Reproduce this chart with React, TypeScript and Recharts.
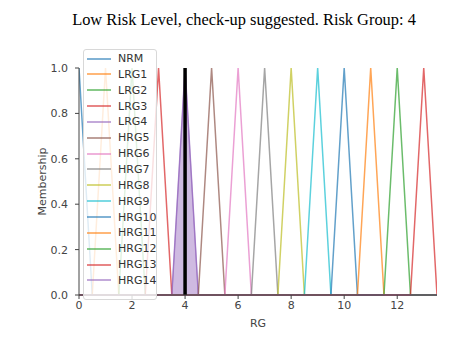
import React from 'react'
import { ComposedChart, Line, Area, XAxis, YAxis } from 'recharts'

// fuzzy sets of the risk group universe
const setNames = ['NRM', 'LRG1', 'LRG2', 'LRG3', 'LRG4', 'HRG5', 'HRG6', 'HRG7', 'HRG8', 'HRG9', 'HRG10', 'HRG11', 'HRG12', 'HRG13', 'HRG14']
const leftFeet = [0, 0.5, 1.5, 2.5, 3.5, 4.5, 5.5, 6.5, 7.5, 8.5, 9.5, 10.5, 11.5, 12.5, 13.5]
const peaks = [0, 1, 2, 3, 4, 5, 6, 7, 8, 9, 10, 11, 12, 13, 14]
const rightFeet = [0.5, 1.5, 2.5, 3.5, 4.5, 5.5, 6.5, 7.5, 8.5, 9.5, 10.5, 11.5, 12.5, 13.5, 13.5]
const setColors = ['#1f77b4', '#ff7f0e', '#2ca02c', '#d62728', '#9467bd', '#8c564b', '#e377c2', '#7f7f7f', '#bcbd22', '#17becf', '#1f77b4', '#ff7f0e', '#2ca02c', '#d62728', '#9467bd']

const xTicks = [0, 2, 4, 6, 8, 10, 12]
const yTicks = [0, 0.2, 0.4, 0.6, 0.8, 1.0]
const universe = [0, 13.5]

// activated set and the result marker
const activeFill = [
  { x: 3.5, y: 0 },
  { x: 4, y: 1 },
  { x: 4.5, y: 0 },
]
const resultLine = [
  { x: 4, y: 0 },
  { x: 4, y: 1 },
]

const title = 'Low Risk Level, check-up suggested. Risk Group: 4'

function setPoints(i: number) {
  const pts: { x: number; y: number }[] = []
  const a = leftFeet[i], b = peaks[i], c = rightFeet[i]
  if (a > universe[0]) pts.push({ x: universe[0], y: 0 })
  if (b <= universe[1]) {
    if (a < b) pts.push({ x: a, y: 0 })
    pts.push({ x: b, y: 1 })
    if (c > b) pts.push({ x: c, y: 0 })
  } else {
    pts.push({ x: universe[1], y: 0 })
  }
  if (c < universe[1]) pts.push({ x: universe[1], y: 0 })
  return pts
}

const font = '"DejaVu Sans", sans-serif'
const axisColor = '#444'

function LegendBox() {
  return (
    <div
      style={{
        position: 'absolute',
        left: 83,
        top: 49,
        width: 74,
        height: 251,
        background: 'rgba(255,255,255,0.8)',
        border: '1px solid #d8d8d8',
        borderRadius: 3,
        boxSizing: 'border-box',
        fontFamily: font,
        fontSize: 11,
        color: '#333',
      }}
    >
      {setNames.map((n, i) => (
        <div key={n} style={{ position: 'absolute', left: 3, top: 1 + i * 15.85, height: 15, display: 'flex', alignItems: 'center' }}>
          <svg width={24} height={4} style={{ display: 'block' }}>
            <line x1={0} y1={2} x2={24} y2={2} stroke={setColors[i]} strokeWidth={1.5} strokeOpacity={0.75} />
          </svg>
          <span style={{ marginLeft: 7 }}>{n}</span>
        </div>
      ))}
    </div>
  )
}

export default function App() {
  return (
    <div style={{ position: 'absolute', left: 0, top: 0, width: 460, height: 342, background: '#fff' }}>
      <div
        style={{
          position: 'absolute',
          left: 0,
          top: 10,
          width: 488,
          textAlign: 'center',
          fontFamily: '"Liberation Serif", serif',
          fontSize: 16.4,
          color: '#000',
        }}
      >
        {title}
      </div>
      <ComposedChart width={460} height={342} data={activeFill} margin={{ top: 68, right: 23, bottom: 0, left: 0 }}>
        <XAxis
          type="number"
          dataKey="x"
          domain={universe}
          ticks={xTicks}
          allowDataOverflow
          height={47}
          tickSize={4}
          tickMargin={2}
          stroke={axisColor}
          tick={{ fill: axisColor, fontSize: 11, fontFamily: font }}
          label={{
            content: (p: any) => (
              <text x={p.viewBox.x + p.viewBox.width / 2} y={327} textAnchor="middle" fill={axisColor} fontSize={11} fontFamily={font}>
                RG
              </text>
            ),
          }}
        />
        <YAxis
          type="number"
          dataKey="y"
          domain={[0, 1]}
          ticks={yTicks}
          width={79}
          tickSize={4}
          tickMargin={7}
          stroke={axisColor}
          tickFormatter={(v: number) => v.toFixed(1)}
          tick={{ fill: axisColor, fontSize: 11, fontFamily: font }}
          label={{
            content: (p: any) => {
              const cy = p.viewBox.y + p.viewBox.height / 2
              return (
                <text x={46} y={cy} transform={`rotate(-90 46 ${cy})`} textAnchor="middle" fill={axisColor} fontSize={11} fontFamily={font}>
                  Membership
                </text>
              )
            },
          }}
        />
        {setNames.map((n, i) => (
          <Line
            key={n}
            data={setPoints(i)}
            dataKey="y"
            type="linear"
            stroke={setColors[i]}
            strokeWidth={1.5}
            strokeOpacity={0.7}
            dot={false}
            activeDot={false}
            isAnimationActive={false}
          />
        ))}
        <Area
          dataKey="y"
          type="linear"
          baseValue={0}
          fill="#9467bd"
          fillOpacity={0.45}
          stroke="#9467bd"
          strokeOpacity={0.6}
          strokeWidth={1}
          dot={false}
          activeDot={false}
          isAnimationActive={false}
        />
        <Line
          data={resultLine}
          dataKey="y"
          type="linear"
          stroke="#000"
          strokeWidth={3.5}
          dot={false}
          activeDot={false}
          isAnimationActive={false}
        />
      </ComposedChart>
      <LegendBox />
    </div>
  )
}
